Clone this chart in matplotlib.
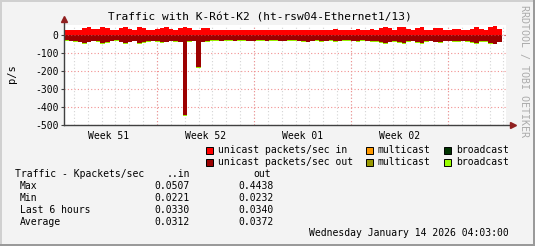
import numpy as np
import matplotlib.pyplot as plt

# canvas size in pixels
W, H = 535, 246

# unicast packets/sec in, 8h steps (p/s)
in_pps = [27, 27, 28, 28, 40, 44, 32, 34, 44, 40, 28, 26,
          42, 44, 34, 28, 44, 42, 30, 26, 32, 40, 44, 33,
          30, 40, 45, 38, 28, 27, 40, 40, 27, 26, 27, 26,
          26, 28, 27, 26, 29, 30, 26, 27, 28, 27, 26, 28,
          29, 27, 26, 30, 29, 27, 26, 27, 30, 28, 29, 36,
          30, 27, 26, 28, 31, 27, 26, 34, 28, 40, 46, 42,
          30, 44, 46, 32, 28, 40, 45, 30, 28, 38, 40, 28,
          29, 31, 33, 30, 27, 36, 45, 32, 30, 45, 50, 34]

# unicast packets/sec out (shown below zero)
out_pps = [29, 31, 33, 37, 43, 37, 31, 35, 43, 39, 31, 29,
           37, 43, 37, 31, 43, 41, 33, 31, 35, 41, 37, 31,
           33, 37, 444, 35, 31, 175, 37, 33, 29, 29, 31, 29,
           29, 31, 30, 29, 31, 32, 29, 30, 31, 29, 29, 31,
           32, 30, 29, 31, 33, 37, 31, 29, 35, 31, 29, 33,
           31, 29, 30, 31, 33, 29, 31, 35, 33, 41, 45, 37,
           33, 41, 45, 35, 31, 39, 43, 33, 31, 37, 39, 31,
           31, 33, 35, 31, 33, 39, 45, 35, 33, 43, 47, 37]

# broadcast out, stacked under the unicast out
bcast_out = [3, 3, 3, 4, 5, 4, 3, 3, 5, 4, 3, 3,
             4, 5, 4, 3, 5, 4, 3, 3, 3, 4, 4, 3,
             3, 4, 6, 3, 3, 6, 4, 3, 2, 2, 3, 2,
             2, 3, 2, 2, 3, 3, 2, 2, 3, 2, 2, 3,
             3, 2, 2, 3, 4, 4, 3, 2, 4, 3, 2, 3,
             3, 2, 2, 3, 3, 2, 3, 4, 3, 4, 5, 4,
             3, 4, 5, 4, 3, 4, 4, 3, 3, 4, 4, 3,
             3, 3, 4, 3, 3, 4, 5, 4, 3, 4, 5, 4]

week_labels = ["Week 51", "Week 52", "Week 01", "Week 02"]
y_ticks = [0, -100, -200, -300, -400, -500]

stat_rows = ["Max", "Min", "Last 6 hours", "Average"]
stat_in = ["0.0507", "0.0221", "0.0330", "0.0312"]
stat_out = ["0.4438", "0.0232", "0.0340", "0.0372"]

legend_items = [("unicast packets/sec in", "#FF0000"), ("multicast", "#FF9900"), ("broadcast", "#003300"),
                ("unicast packets/sec out", "#990000"), ("multicast", "#999900"), ("broadcast", "#99FF00")]

MONO = "DejaVu Sans Mono"
plt.rcParams['font.family'] = MONO

def fx(x):
    return x / W

def fy(y):
    return 1 - y / H

fig = plt.figure(figsize=(W / 100, H / 100), dpi=100)
fig.patch.set_facecolor('#F3F3F3')

# plot area: px 64..506 wide, 25..125 high
ax = fig.add_axes([fx(64), fy(125), (506 - 64) / W, 100 / H])
ax.set_facecolor('white')
x_end = 31.9       # days shown
data_end = 31.6
ax.set_xlim(0, x_end)
ax.set_ylim(-500, 56)
for s in ax.spines.values():
    s.set_visible(False)

# grid: minor every day, major every week
first_day = 0.71
for d in np.arange(first_day, x_end, 1.0):
    ax.axvline(d, color='#D4D4D4', lw=0.8, ls=(0, (1, 2)), zorder=1)
majors = np.arange(first_day + 6, x_end, 7.0)
for d in majors:
    ax.axvline(d, color='#F29090', lw=0.8, ls=(0, (1, 2)), zorder=1)
for yv in y_ticks:
    ax.axhline(yv, color='#F29090', lw=0.8, ls=(0, (1, 2)), zorder=1)

n = len(in_pps)
xe = np.linspace(0, data_end, n + 1)
inn = np.append(in_pps, in_pps[-1])
out = -np.append(out_pps, out_pps[-1])
bc = np.append(bcast_out, bcast_out[-1])

ax.fill_between(xe, 0, inn, step='post', color='#FF0000', lw=0, zorder=2)
ax.fill_between(xe, 0, out, step='post', color='#9C0000', lw=0, zorder=2)
ax.fill_between(xe, out, out - bc, step='post', color='#99EE00', lw=0, zorder=2)
ax.axhline(0, color='#C04040', lw=0.8, ls=(0, (1, 2)), zorder=3)

ax.set_xticks(majors - 3.5)
ax.set_xticklabels(week_labels)
ax.set_yticks(y_ticks)
ax.set_yticklabels([str(v) for v in y_ticks])
ax.tick_params(axis='x', length=0, pad=4, labelsize=7)
ax.tick_params(axis='y', length=2, width=0.8, pad=2, labelsize=7, color='#404040')

# axis lines with arrows
ax.plot([0, 1.012], [0, 0], color='#404040', lw=1, transform=ax.transAxes, clip_on=False, zorder=5)
ax.plot([0, 0], [0, 1.05], color='#404040', lw=1, transform=ax.transAxes, clip_on=False, zorder=5)
ax.plot([1.015], [0], marker='>', ms=4, color='#902020', transform=ax.transAxes, clip_on=False, zorder=6)
ax.plot([0], [1.06], marker='^', ms=4, color='#902020', transform=ax.transAxes, clip_on=False, zorder=6)

fig.text(fx(260), fy(17.5), "Traffic with K-Rót-K2 (ht-rsw04-Ethernet1/13)", fontsize=8,
         ha='center', va='center')
fig.text(fx(12), fy(74), "p/s", fontsize=7.5, rotation=90, ha='center', va='center')
fig.text(fx(524), fy(5), "RRDTOOL / TOBI OETIKER", fontsize=7.2, rotation=270,
         ha='center', va='top', color='#ABABAB')

# legend
col_x = [206, 366, 444]
row_y = [150, 162]
for i, (label, col) in enumerate(legend_items):
    x0 = col_x[i % 3]
    y0 = row_y[i // 3]
    fig.patches.append(plt.Rectangle((fx(x0), fy(y0 + 3.5)), 7 / W, 7 / H, transform=fig.transFigure,
                                     facecolor=col, edgecolor='black', lw=0.7))
    fig.text(fx(x0 + 12), fy(y0), label, fontsize=7, ha='left', va='center')

# stats table
fig.text(fx(15), fy(174), "Traffic - Kpackets/sec", fontsize=7, ha='left', va='center')
fig.text(fx(190), fy(174), "..in", fontsize=7, ha='right', va='center')
fig.text(fx(271), fy(174), "out", fontsize=7, ha='right', va='center')
for i, name in enumerate(stat_rows):
    y = 186 + 12 * i
    fig.text(fx(20), fy(y), name, fontsize=7, ha='left', va='center')
    fig.text(fx(190), fy(y), stat_in[i], fontsize=7, ha='right', va='center')
    fig.text(fx(274), fy(y), stat_out[i], fontsize=7, ha='right', va='center')
fig.text(fx(509), fy(233.5), "Wednesday January 14 2026 04:03:00", fontsize=7, ha='right', va='center')

# 3d-ish frame
frame = [((0, 0), 2, H, '#D0D0D0'), ((0, H - 2), W, 2, '#D0D0D0'),
         ((W - 2, 0), 2, H, '#9A9A9A'), ((0, 0), W, 2, '#9A9A9A')]
for (xy, w, h, c) in frame:
    fig.patches.append(plt.Rectangle((xy[0] / W, xy[1] / H), w / W, h / H, transform=fig.transFigure,
                                     facecolor=c, edgecolor='none'))

fig.savefig("out.png", dpi=100, facecolor=fig.get_facecolor())
